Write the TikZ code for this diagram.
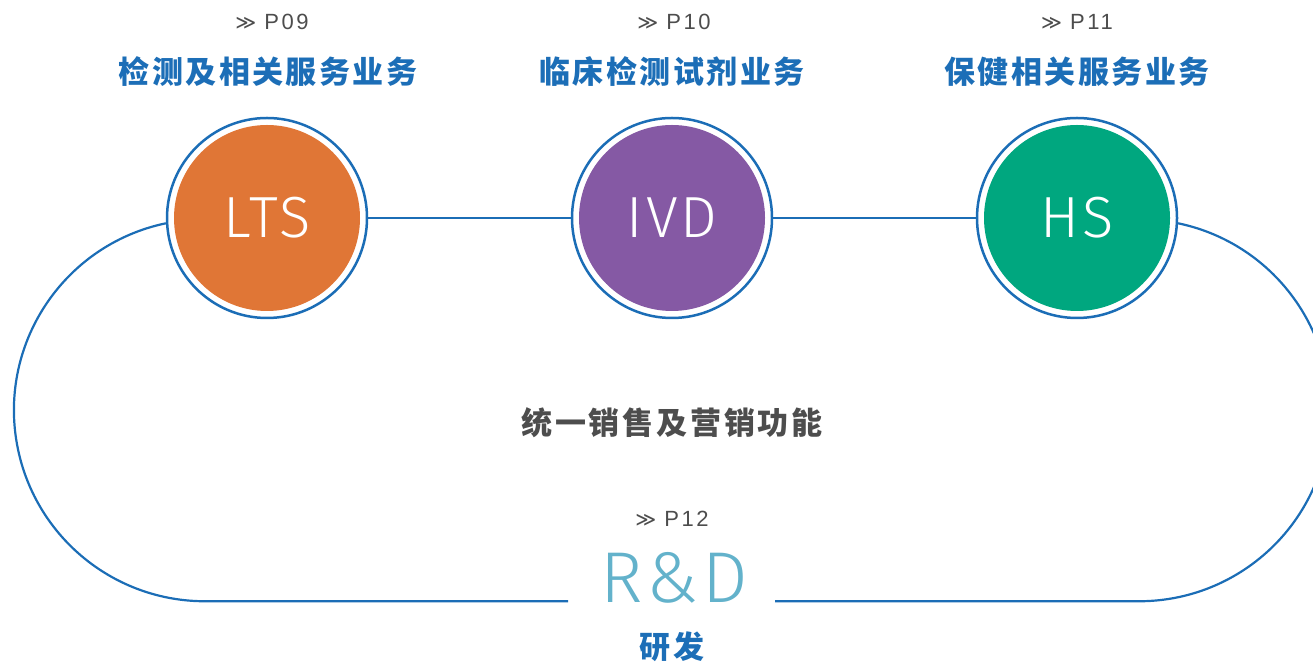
\documentclass[tikz,border=0pt]{standalone}
\usepackage{fontspec}
\setmainfont{Liberation Sans}
\newfontfamily\cjk{Noto Sans CJK SC}
\newfontfamily\symf{DejaVu Sans}
\newfontfamily\lightsf{Fira Sans Light}
\definecolor{linec}{HTML}{1B6DB6}
\definecolor{titlec}{HTML}{1C6EB7}
\definecolor{ltsc}{HTML}{E07636}
\definecolor{ivdc}{HTML}{8559A4}
\definecolor{hsc}{HTML}{00A77F}
\definecolor{rdc}{HTML}{63B2CB}
\definecolor{grayc}{HTML}{4D4D4D}
\tikzset{
  bizring/.style={circle, draw=linec, line width=2.5pt, fill=white, minimum size=200pt, inner sep=0pt,
    path picture={\fill[#1] (path picture bounding box.center) circle (93);},
    text=white, font=\lightsf\fontsize{58}{58}\selectfont\addfontfeature{LetterSpace=5}},
  loopline/.style={draw=linec, line width=2.2pt},
  pagelbl/.style={inner sep=0pt, text=grayc, font=\fontsize{22}{22}\selectfont\addfontfeature{LetterSpace=12}},
  titlelbl/.style={inner sep=0pt, text=titlec, font=\cjk\bfseries\fontsize{31}{31}\selectfont\addfontfeature{LetterSpace=8}},
  graylbl/.style={inner sep=0pt, text=grayc, font=\cjk\bfseries\fontsize{31}{31}\selectfont\addfontfeature{LetterSpace=9}},
}
\begin{document}
\begin{tikzpicture}[x=1pt,y=1pt]
\useasboundingbox (0,0) rectangle (1313,663);
\clip (0,0) rectangle (1313,663);
% circles
\node[bizring=ltsc] (lts) at (267,445) {LTS};
\node[bizring=ivdc] (ivd) at (672,445) {IVD};
\node[bizring=hsc] (hs) at (1077,445) {HS};
% connectors
\draw[loopline] (lts.east) -- (ivd.west);
\draw[loopline] (ivd.east) -- (hs.west);
\coordinate (gapl) at (568,61.8);
\coordinate (gapr) at (775,61.8);
\draw[loopline] (lts.183) arc[start angle=101.8, end angle=270, radius=191] -- (gapl);
\draw[loopline] (hs.357) arc[start angle=78.2, end angle=-90, radius=191] -- (gapr);
% page refs
\node[pagelbl] (p09) at (272,641) {{\symf\fontsize{20}{20}\selectfont ≫}\hspace{8pt}P09};
\node[pagelbl] (p10) at (674,641) {{\symf\fontsize{20}{20}\selectfont ≫}\hspace{8pt}P10};
\node[pagelbl] (p11) at (1077,641) {{\symf\fontsize{20}{20}\selectfont ≫}\hspace{8pt}P11};
\node[pagelbl] (p12) at (672,144) {{\symf\fontsize{20}{20}\selectfont ≫}\hspace{8pt}P12};
% titles
\node[titlelbl] (t1) at (268,591) {检测及相关服务业务};
\node[titlelbl] (t2) at (672,591) {临床检测试剂业务};
\node[titlelbl] (t3) at (1077,591) {保健相关服务业务};
\node[graylbl] (sales) at (672,240) {统一销售及营销功能};
% R&D
\node[inner sep=0pt, anchor=base, text=rdc, font=\lightsf\fontsize{72}{72}\selectfont\addfontfeature{LetterSpace=6}] (rd) at (674,60) {R\&D};
\node[titlelbl] (rdzh) at (672,16) {研发};
\end{tikzpicture}
\end{document}
